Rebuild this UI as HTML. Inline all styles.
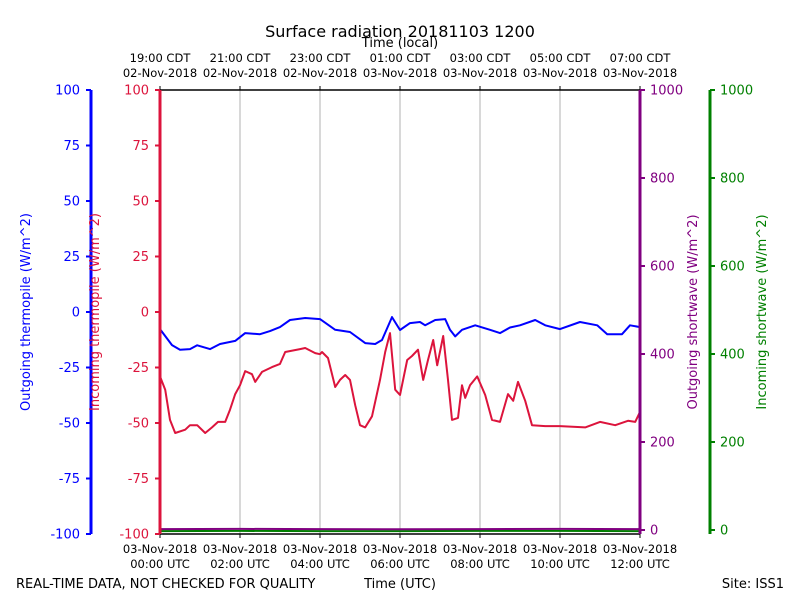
<!DOCTYPE html>
<html><head><meta charset="utf-8"><style>
body{margin:0;background:#fff}
svg{display:block;font-family:"DejaVu Sans","Liberation Sans",sans-serif}
</style></head><body>
<svg id="chart" width="800" height="600" viewBox="0 0 800 600">
<text x="400" y="37" font-size="16" text-anchor="middle">Surface radiation 20181103 1200</text>
<text x="400" y="47" font-size="13" text-anchor="middle">Time (local)</text>
<text x="16" y="588" font-size="13">REAL-TIME DATA, NOT CHECKED FOR QUALITY</text>
<text x="400" y="588" font-size="13" text-anchor="middle">Time (UTC)</text>
<text x="784" y="588" font-size="13" text-anchor="end">Site: ISS1</text>
<g id="grid"></g><g id="series"></g><g id="axes"></g>
</svg>
<script>
const hours=[0,2,4,6,8,10,12];
const utcDates=["03-Nov-2018","03-Nov-2018","03-Nov-2018","03-Nov-2018","03-Nov-2018","03-Nov-2018","03-Nov-2018"];
const utcTimes=["00:00 UTC","02:00 UTC","04:00 UTC","06:00 UTC","08:00 UTC","10:00 UTC","12:00 UTC"];
const localTimes=["19:00 CDT","21:00 CDT","23:00 CDT","01:00 CDT","03:00 CDT","05:00 CDT","07:00 CDT"];
const localDates=["02-Nov-2018","02-Nov-2018","02-Nov-2018","03-Nov-2018","03-Nov-2018","03-Nov-2018","03-Nov-2018"];
const leftTicks=[-100,-75,-50,-25,0,25,50,75,100];
const rightTicks=[0,200,400,600,800,1000];
const blueT=[0,0.3,0.5,0.75,0.93,1.25,1.5,1.88,2.13,2.5,2.75,3,3.25,3.63,4,4.38,4.75,5.13,5.38,5.55,5.8,6,6.25,6.5,6.63,6.88,7.13,7.25,7.38,7.55,7.88,8.25,8.5,8.75,9,9.38,9.63,10,10.5,10.93,11.18,11.55,11.75,12];
const blueV=[-7.7,-14.9,-17,-16.7,-15,-16.7,-14.4,-13,-9.5,-10,-8.6,-6.8,-3.6,-2.7,-3.2,-8,-9,-14,-14.4,-12.6,-2.3,-8.1,-5,-4.5,-6,-3.6,-3.2,-8,-11,-8,-6,-8,-9.5,-7,-6,-3.6,-6,-7.7,-4.5,-6,-10,-10,-6,-6.8];
const redT=[0,0.13,0.25,0.38,0.63,0.75,0.93,1.13,1.3,1.45,1.63,1.75,1.88,2,2.13,2.3,2.38,2.55,2.8,3,3.13,3.5,3.63,3.88,4,4.05,4.2,4.38,4.5,4.63,4.75,4.88,5,5.13,5.3,5.5,5.63,5.75,5.88,6,6.18,6.3,6.45,6.58,6.7,6.83,6.93,7.08,7.2,7.3,7.45,7.55,7.63,7.75,7.93,8.13,8.3,8.5,8.7,8.83,8.95,9.13,9.3,9.63,10,10.63,11,11.38,11.7,11.88,12];
const redV=[-29,-35,-48.6,-54.5,-53,-51,-51,-54.5,-52,-49.5,-49.5,-44,-37,-33,-26.6,-28,-31.5,-27,-24.8,-23.4,-18,-16.7,-16.2,-18.5,-19,-18,-20.7,-33.8,-30.6,-28.4,-30.6,-42,-51,-52,-47,-30.6,-18,-9.5,-35,-37.4,-21.6,-19.8,-17,-30.6,-21.6,-12.6,-24,-10.8,-30.6,-48.6,-47.7,-33,-38.7,-33,-29,-37.4,-48.6,-49.5,-37,-40,-31.5,-40,-51,-51.4,-51.4,-52,-49.5,-51,-49,-49.5,-45];
const swT=[0,2,4,6,8,10,12];
const outSW=[2,2.5,2,1.5,2,2.5,2];
const inSW=[-2.5,-2,-2.5,-2.5,-2,-2,-2.5];
const X=h=>160+h*40, YL=v=>312-v*2.22, YR=v=>530-v*0.44;
const NS="http://www.w3.org/2000/svg";
function mk(tag,attrs,parent,txt){const e=document.createElementNS(NS,tag);for(const k in attrs)e.setAttribute(k,attrs[k]);if(txt!==undefined)e.textContent=txt;document.getElementById(parent).appendChild(e);return e;}
hours.forEach((h,i)=>{
 if(i>0&&i<hours.length-1){const g=mk('line',{x1:X(h),x2:X(h),y1:90,y2:534,stroke:'#b0b0b0','stroke-width':1},'grid');
 
 }
 const t1=mk('text',{x:X(h),y:553,'font-size':11.5,'text-anchor':'middle'},'axes',utcDates[i]);
 
 
 const t2=mk('text',{x:X(h),y:568,'font-size':11.5,'text-anchor':'middle'},'axes',utcTimes[i]);
 
 
 const t3=mk('text',{x:X(h),y:62,'font-size':11.5,'text-anchor':'middle'},'axes',localTimes[i]);
 
 
 const t4=mk('text',{x:X(h),y:77,'font-size':11.5,'text-anchor':'middle'},'axes',localDates[i]);
 
 
 mk('line',{x1:X(h),x2:X(h),y1:534,y2:538,stroke:'#000'},'axes');
 mk('line',{x1:X(h),x2:X(h),y1:90,y2:86,stroke:'#000'},'axes');
});
function path(ts,vs,yf,color,name){const d=ts.map((t,i)=>(i?'L':'M')+X(t).toFixed(1)+' '+yf(vs[i]).toFixed(1)).join(' ');
 const p=mk('path',{d:d,fill:'none',stroke:color,'stroke-width':2,'stroke-linejoin':'round'},'series');
 
 }
path(swT,inSW,YR,'green','incoming-shortwave-line');
path(swT,outSW,YR,'purple','outgoing-shortwave-line');
path(blueT,blueV,YL,'blue','outgoing-thermopile-line');
path(redT,redV,YL,'crimson','incoming-thermopile-line');
mk('line',{x1:160,x2:640,y1:534,y2:534,stroke:'#000','stroke-width':1.5},'axes');
mk('line',{x1:160,x2:640,y1:90,y2:90,stroke:'#000','stroke-width':1.5},'axes');
[[91,'blue'],[160,'crimson']].forEach(([ax,c])=>{
 mk('line',{x1:ax,x2:ax,y1:90,y2:534,stroke:c,'stroke-width':3},'axes');
 leftTicks.forEach(v=>{mk('line',{x1:ax,x2:ax-5,y1:YL(v),y2:YL(v),stroke:c,'stroke-width':2},'axes');
  const t=mk('text',{x:ax-11,y:YL(v)+4.5,'font-size':13,'text-anchor':'end',fill:c},'axes',v);
  
  });
});
[[640,'purple'],[710,'green']].forEach(([ax,c])=>{
 mk('line',{x1:ax,x2:ax,y1:90,y2:534,stroke:c,'stroke-width':3},'axes');
 rightTicks.forEach(v=>{mk('line',{x1:ax,x2:ax+5,y1:YR(v),y2:YR(v),stroke:c,'stroke-width':2},'axes');
  const t=mk('text',{x:ax+10,y:YR(v)+4.5,'font-size':13,fill:c},'axes',v);
  
  });
});
const labs=[[30,'blue','Outgoing thermopile (W/m^2)'],[99,'crimson','Incoming thermopile (W/m^2)'],[697,'purple','Outgoing shortwave (W/m^2)'],[766,'green','Incoming shortwave (W/m^2)']];
labs.forEach(([x,c,s])=>{const t=mk('text',{x:x,y:312,'font-size':13,fill:c,'text-anchor':'middle',transform:`rotate(-90 ${x} 312)`},'axes',s);
 
 });
</script>
</body></html>
